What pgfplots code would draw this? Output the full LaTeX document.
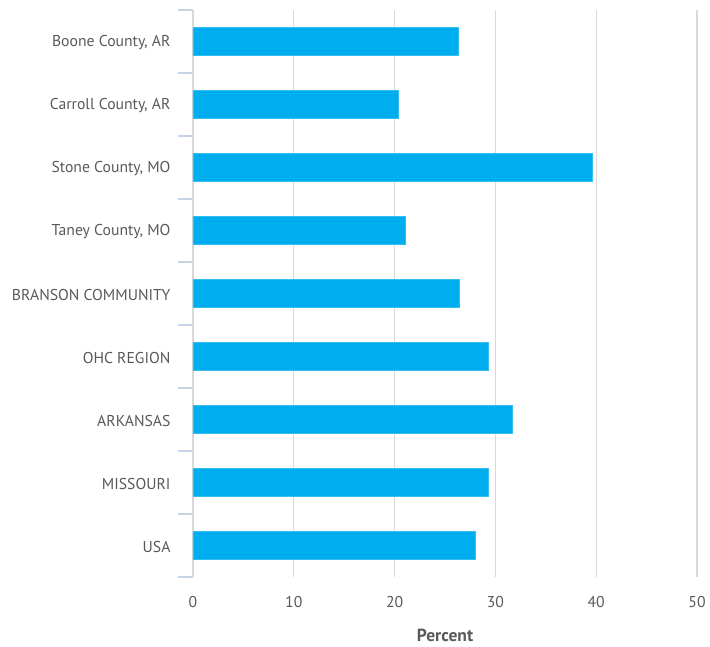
\documentclass[border=0pt]{standalone}
\usepackage{pgfplots}
\pgfplotsset{compat=1.18}
\usepackage{fontspec}
\setmainfont{PT Sans}
\definecolor{barblue}{HTML}{00AEEF}
\definecolor{gridgray}{HTML}{D9D9D9}
\definecolor{axisblue}{HTML}{C5D3E4}
\definecolor{txt}{HTML}{595959}
\begin{document}
\begin{tikzpicture}
\path (0pt,0pt) rectangle (710pt,647pt);
\begin{axis}[
  at={(193pt,70pt)}, anchor=south west,
  scale only axis, width=504pt, height=567pt,
  xbar, bar width=28pt,
  xmin=0, xmax=50, ymin=-0.5, ymax=8.5, y dir=reverse,
  xtick={10,20,...,50},
  extra x ticks={0}, extra x tick labels={0},
  extra x tick style={grid style={draw=axisblue, line width=1.5pt}},
  ytick={0,...,8},
  yticklabels={{Boone County, AR},{Carroll County, AR},{Stone County, MO},{Taney County, MO},{BRANSON COMMUNITY},{OHC REGION},{ARKANSAS},{MISSOURI},{USA}},
  minor ytick={-0.5,0.5,...,8.5},
  axis line style={draw=none},
  tick align=outside, tick pos=left,
  major tick length=0pt, minor tick length=15pt,
  minor tick style={draw=axisblue, line width=1.5pt},
  xmajorgrids, major grid style={draw=gridgray, line width=1.3pt},
  /pgf/number format/assume math mode=true,
  tick label style={font=\fontsize{15.7}{19}\selectfont, text=txt},
  yticklabel style={xshift=-19pt, yshift=-1.5pt},
  xticklabel style={yshift=-16pt},
  xlabel={\textbf{Percent}},
  xlabel style={font=\fontsize{17.5}{20}\selectfont, text=txt, yshift=-14pt},
]
\addplot[fill=barblue, draw=barblue!80!white] coordinates {
(26.3,0) (20.4,1) (39.6,2) (21.1,3) (26.4,4) (29.3,5) (31.7,6) (29.3,7) (28.0,8)
};
\end{axis}
\end{tikzpicture}
\end{document}
